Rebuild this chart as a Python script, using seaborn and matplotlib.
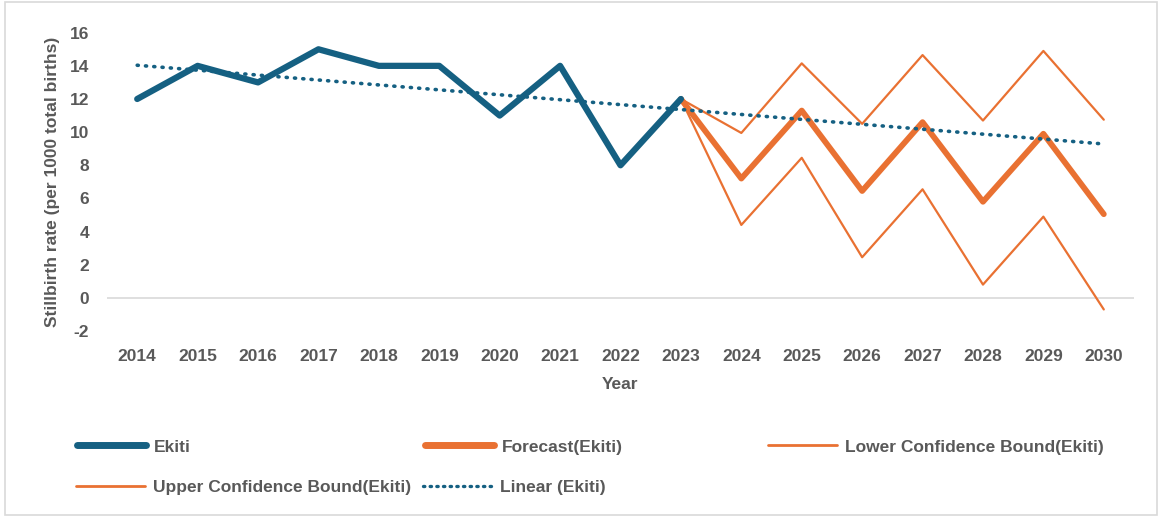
import numpy as np
import pandas as pd
import matplotlib
matplotlib.use("Agg")
import matplotlib.pyplot as plt
import seaborn as sns
from matplotlib.lines import Line2D
from matplotlib.patches import Rectangle

# ---- data ----
years_actual = [2014, 2015, 2016, 2017, 2018, 2019, 2020, 2021, 2022, 2023]
ekiti = [12, 14, 13, 15, 14, 14, 11, 14, 8, 12]

years_fc = [2023, 2024, 2025, 2026, 2027, 2028, 2029, 2030]
forecast = [12.0, 7.2, 11.3, 6.45, 10.6, 5.8, 9.9, 5.05]
upper_cb = [12.0, 9.95, 14.15, 10.5, 14.65, 10.7, 14.9, 10.75]
lower_cb = [12.0, 4.4, 8.45, 2.45, 6.55, 0.8, 4.9, -0.7]

all_years = list(range(2014, 2031))
y_ticks = [-2, 0, 2, 4, 6, 8, 10, 12, 14, 16]

BLUE = "#156082"
ORANGE = "#E97132"
GRAY = "#595959"

sns.set_theme(style="white")
plt.rcParams["font.family"] = ["Liberation Sans", "DejaVu Sans"]

fig = plt.figure(figsize=(11.62, 5.17), dpi=100)
ax = fig.add_axes([107 / 1162, 1 - 331 / 517, (1134 - 107) / 1162, (331 - 32.7) / 517])

# trend line (linear fit of the actual series)
idx = np.arange(len(years_actual))
slope, intercept = np.polyfit(idx, ekiti, 1)
trend_x = np.array(all_years)
trend_y = intercept + slope * (trend_x - years_actual[0])
df_trend = pd.DataFrame({"year": trend_x, "val": trend_y})

df_act = pd.DataFrame({"year": years_actual, "val": ekiti})
df_fc = pd.DataFrame({"year": years_fc, "val": forecast})
df_up = pd.DataFrame({"year": years_fc, "val": upper_cb})
df_lo = pd.DataFrame({"year": years_fc, "val": lower_cb})

ax.axhline(0, color="#D9D9D9", lw=1.2, zorder=1)

sns.lineplot(data=df_up, x="year", y="val", ax=ax, color=ORANGE, lw=1.6, zorder=3)
sns.lineplot(data=df_lo, x="year", y="val", ax=ax, color=ORANGE, lw=1.6, zorder=3)
sns.lineplot(data=df_fc, x="year", y="val", ax=ax, color=ORANGE, lw=4.2, zorder=4,
             solid_capstyle="round", solid_joinstyle="round")
sns.lineplot(data=df_act, x="year", y="val", ax=ax, color=BLUE, lw=4.5, zorder=5,
             solid_capstyle="round", solid_joinstyle="round")
sns.lineplot(data=df_trend, x="year", y="val", ax=ax, color=BLUE, lw=2.6, zorder=6,
             linestyle=(0, (0.3, 2.0)), dash_capstyle="round")
ax.get_lines()[-1].set_dash_capstyle("round")

ax.set_xlim(2013.5, 2030.5)
ax.set_ylim(-2, 16)
ax.set_xticks(all_years)
ax.set_xticklabels([str(y) for y in all_years])
ax.set_yticks(y_ticks)
ax.set_yticklabels([str(v) for v in y_ticks])
for s in ax.spines.values():
    s.set_visible(False)
ax.grid(False)
ax.tick_params(axis="both", length=0, labelsize=12.5, labelcolor=GRAY)
ax.tick_params(axis="x", pad=13)
ax.tick_params(axis="y", pad=13)
for lab in ax.get_xticklabels() + ax.get_yticklabels():
    lab.set_fontweight("bold")

ax.set_xlabel("Year", fontsize=12.5, fontweight="bold", color=GRAY, labelpad=9)
ax.set_ylabel("Stillbirth rate (per 1000 total births)", fontsize=12.5,
              fontweight="bold", color=GRAY, labelpad=7)

# legend entries placed individually
entries = [
    (Line2D([], [], color=BLUE, lw=5, solid_capstyle="round"), "Ekiti", 77, 447),
    (Line2D([], [], color=ORANGE, lw=5, solid_capstyle="round"), "Forecast(Ekiti)", 425, 447),
    (Line2D([], [], color=ORANGE, lw=2), "Lower Confidence Bound(Ekiti)", 768, 447),
    (Line2D([], [], color=ORANGE, lw=2), "Upper Confidence Bound(Ekiti)", 76, 487),
    (Line2D([], [], color=BLUE, lw=2.4, linestyle=(0, (0.4, 1.6)), dash_capstyle="round"),
     "Linear (Ekiti)", 423, 487),
]
for h, lab, px, py in entries:
    leg = fig.legend(handles=[h], labels=[lab], loc="center left",
                     bbox_to_anchor=(px / 1162, 1 - py / 517), frameon=False,
                     handlelength=4.0, handletextpad=0.45, borderaxespad=0,
                     borderpad=0, prop={"size": 12.5, "weight": "bold"})
    for t in leg.get_texts():
        t.set_color(GRAY)

fig.patches.append(Rectangle((0.004, 0.004), 0.992, 0.992, transform=fig.transFigure,
                             fill=False, edgecolor="#D9D9D9", lw=1.2))

fig.savefig("out.png", dpi=100, facecolor="white")
